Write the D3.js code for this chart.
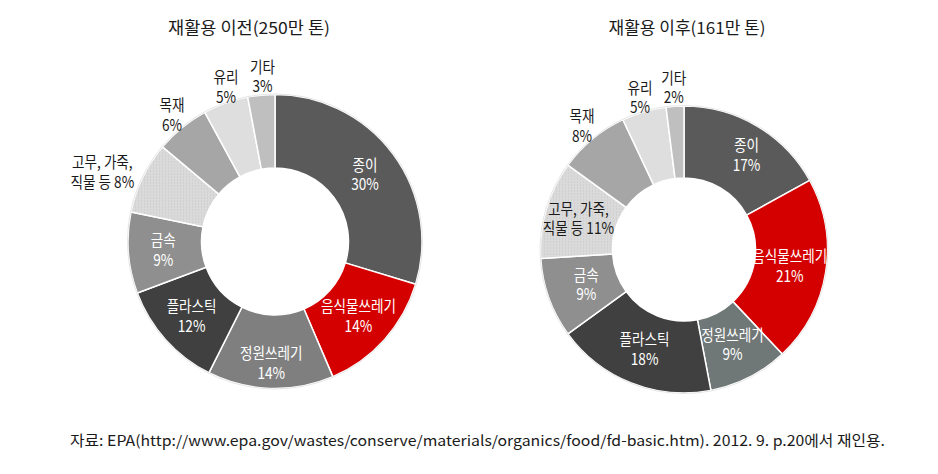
<!DOCTYPE html>
<html><head><meta charset="utf-8">
<script src="https://cdn.jsdelivr.net/npm/d3@7"></script>
<style>
html,body{margin:0;padding:0;background:#fff;}
svg{display:block;}
text{font-family:"Noto Sans CJK KR","Noto Sans",sans-serif;}
</style></head>
<body>
<svg id="chart" width="938" height="474"></svg>
<script>
// ---- data ----
const categories = ["종이", "음식물쓰레기", "정원쓰레기", "플라스틱", "금속", "고무, 가죽,|직물 등", "목재", "유리", "기타"];
const beforeValues = [30, 14, 14, 12, 9, 8, 6, 5, 3];
const afterValues  = [17, 21, 9, 18, 9, 11, 8, 5, 2];
const chartTitles = ["재활용 이전(250만 톤)", "재활용 이후(161만 톤)"];
const sourceNote = "자료: EPA(http://www.epa.gov/wastes/conserve/materials/organics/food/fd-basic.htm). 2012. 9. p.20에서 재인용.";

// ---- styling / layout ----
const colorsBefore = ["#5a5a5a", "#d40000", "#7f7f7f", "#404040", "#8f8f8f", "url(#dots)", "#a6a6a6", "#dedede", "#bfbfbf"];
const colorsAfter  = ["#5a5a5a", "#d40000", "#707777", "#404040", "#8f8f8f", "url(#dots)", "#a6a6a6", "#dedede", "#bfbfbf"];
const darkText = "#1a1a1a";
const labelColorsBefore = ["#fff","#fff","#fff","#fff","#fff",darkText,darkText,darkText,darkText];
const labelColorsAfter  = ["#fff","#fff","#fff","#fff","#fff",darkText,darkText,darkText,darkText];
const labelRadiusBefore = [112, 112, 122, 112, 112, 186, 163, 162, 165];
const labelRadiusAfter  = [113, 107, 107, 107, 104, 110, 160, 158, 162];
const labelAngleShiftBefore = [0, 0, 0, 0, 0, -4, 0, 2, 1];
const labelAngleShiftAfter  = [3, 0, 0, 0, 0, 0, 0, 0, 0];

const layouts = [
  {cx: 275, cy: 241.5, R: 147, r: 73.5, values: beforeValues, colors: colorsBefore, labelColors: labelColorsBefore, lr: labelRadiusBefore, la: labelAngleShiftBefore, titleX: 249, titleW: 162},
  {cx: 684, cy: 249.5, R: 143.5, r: 71.5, values: afterValues, colors: colorsAfter, labelColors: labelColorsAfter, lr: labelRadiusAfter, la: labelAngleShiftAfter, titleX: 687, titleW: 157}
];

const svg = d3.select("#chart");
const defs = svg.append("defs");
const pat = defs.append("pattern").attr("id","dots").attr("patternUnits","userSpaceOnUse").attr("width",3).attr("height",3);
pat.append("rect").attr("width",3).attr("height",3).attr("fill","#dadada");
pat.append("rect").attr("x",1).attr("y",1).attr("width",1).attr("height",1).attr("fill","#c6c6c6");

const sx = 0.85; // condensed look
const lineH = 19.5;

layouts.forEach((L, ci) => {
  const g = svg.append("g").attr("transform", `translate(${L.cx},${L.cy})`);
  const pie = d3.pie().sort(null).value(d => d);
  const arcs = pie(L.values);
  const arc = d3.arc().innerRadius(L.r).outerRadius(L.R);

  g.selectAll("path.slice").data(arcs).enter().append("path")
    .attr("class","slice")
    .attr("d", arc)
    .attr("fill", (d,i) => L.colors[i])
    .attr("stroke", "#ffffff")
    .attr("stroke-width", 1.5)
    .attr("stroke-linejoin","round");

  g.append("circle").attr("r", L.R + 0.5).attr("fill","none").attr("stroke","#e6e6e6").attr("stroke-width",1);

  arcs.forEach((d, i) => {
    const a = (d.startAngle + d.endAngle) / 2 + L.la[i] * Math.PI / 180;
    const rr = L.lr[i];
    const x = rr * Math.sin(a), y = -rr * Math.cos(a);
    const nameLines = categories[i].split("|");
    const pct = L.values[i] + "%";
    const lines = nameLines.length > 1 ? [nameLines[0], nameLines[1] + " " + pct] : [nameLines[0], pct];
    const t = g.append("text")
      .attr("transform", `translate(${x},${y}) scale(${sx},1)`)
      .attr("text-anchor","middle")
      .attr("font-size", 16)
      .attr("fill", L.labelColors[i]);
    lines.forEach((ln, k) => {
      t.append("tspan").attr("x", 0)
        .attr("y", (k - (lines.length - 1) / 2) * lineH)
        .attr("dy", "0.36em")
        .text(ln);
    });
  });

  svg.append("text")
    .attr("x", L.titleX - L.titleW / 2).attr("y", 28)
    .attr("dy","0.36em")
    .attr("font-size", 16.5)
    .attr("fill", "#1a1a1a")
    .attr("textLength", L.titleW)
    .attr("lengthAdjust","spacingAndGlyphs")
    .text(chartTitles[ci]);
});

svg.append("text")
  .attr("x", 70).attr("y", 441)
  .attr("dy","0.36em")
  .attr("font-size", 14.5)
  .attr("fill", "#1a1a1a")
  .attr("textLength", 815)
  .attr("lengthAdjust","spacingAndGlyphs")
  .text(sourceNote);
</script>
</body></html>
